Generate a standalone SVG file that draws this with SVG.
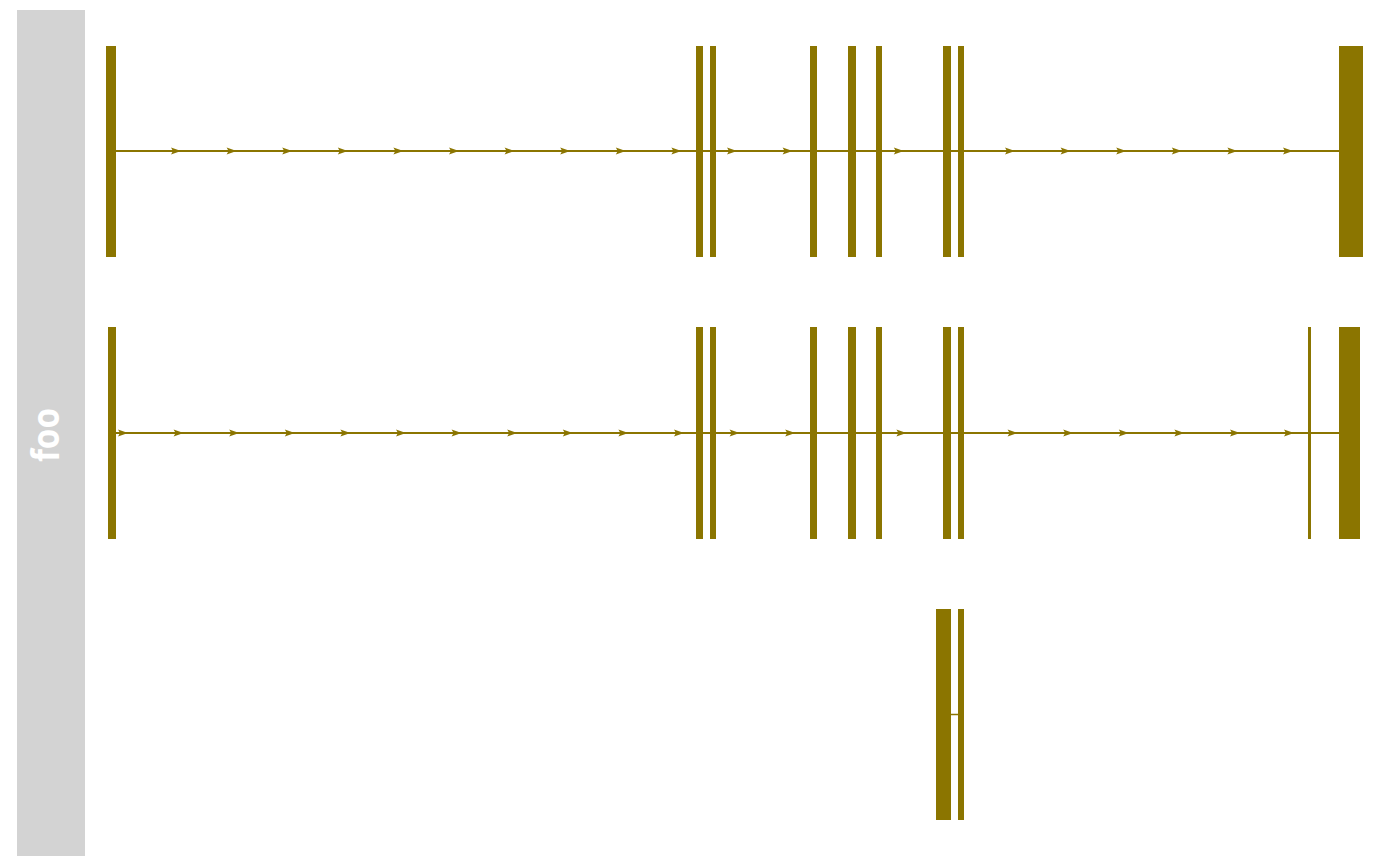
<svg xmlns="http://www.w3.org/2000/svg" xmlns:xlink="http://www.w3.org/1999/xlink" width="1400" height="866" viewBox="0 0 1400 866">
<style>
.bar{fill:#8B7500;}
.conn{stroke:#8B7500;stroke-width:2;fill:none;}
.thin{stroke:#8B7500;stroke-width:1.5;fill:none;}
.lbl{font-family:"Open Sans","Liberation Sans",sans-serif;font-weight:bold;font-size:37px;fill:#FFFFFF;}
</style>
<defs>
<path id="ah" d="M-10,-3.5 L0,0 L-10,3.5 L-8,0 Z" fill="#8B7500"/>
</defs>
<rect width="1400" height="866" fill="#FFFFFF"/>
<g id="lane">
<rect x="17" y="10" width="68" height="846" fill="#D3D3D3"/>
<text class="lbl" transform="translate(59,435) rotate(-90) scale(0.9,1)" text-anchor="middle">foo</text>
</g>
<g id="connectors">
<line class="conn" x1="116" y1="151" x2="1339" y2="151"/>
<use xlink:href="#ah" x="181" y="151"/><use xlink:href="#ah" x="236.6" y="151"/><use xlink:href="#ah" x="292.2" y="151"/><use xlink:href="#ah" x="347.8" y="151"/><use xlink:href="#ah" x="403.4" y="151"/><use xlink:href="#ah" x="459" y="151"/><use xlink:href="#ah" x="514.6" y="151"/><use xlink:href="#ah" x="570.2" y="151"/><use xlink:href="#ah" x="625.8" y="151"/><use xlink:href="#ah" x="681.4" y="151"/><use xlink:href="#ah" x="737" y="151"/><use xlink:href="#ah" x="792.6" y="151"/><use xlink:href="#ah" x="903.8" y="151"/><use xlink:href="#ah" x="1015" y="151"/><use xlink:href="#ah" x="1070.6" y="151"/><use xlink:href="#ah" x="1126.2" y="151"/><use xlink:href="#ah" x="1181.8" y="151"/><use xlink:href="#ah" x="1237.4" y="151"/><use xlink:href="#ah" x="1293" y="151"/>
<line class="conn" x1="116" y1="433" x2="1339" y2="433"/>
<use xlink:href="#ah" x="128" y="433"/><use xlink:href="#ah" x="183.6" y="433"/><use xlink:href="#ah" x="239.2" y="433"/><use xlink:href="#ah" x="294.8" y="433"/><use xlink:href="#ah" x="350.4" y="433"/><use xlink:href="#ah" x="406" y="433"/><use xlink:href="#ah" x="461.6" y="433"/><use xlink:href="#ah" x="517.2" y="433"/><use xlink:href="#ah" x="572.8" y="433"/><use xlink:href="#ah" x="628.4" y="433"/><use xlink:href="#ah" x="684" y="433"/><use xlink:href="#ah" x="739.6" y="433"/><use xlink:href="#ah" x="795.2" y="433"/><use xlink:href="#ah" x="906.4" y="433"/><use xlink:href="#ah" x="1017.6" y="433"/><use xlink:href="#ah" x="1073.2" y="433"/><use xlink:href="#ah" x="1128.8" y="433"/><use xlink:href="#ah" x="1184.4" y="433"/><use xlink:href="#ah" x="1240" y="433"/><use xlink:href="#ah" x="1294" y="433"/>
<line class="thin" x1="951" y1="714.5" x2="958" y2="714.5"/>
</g>
<g id="row1">
<rect id="r1n1" class="bar" x="106" y="46" width="10" height="211"/>
<rect id="r1n2" class="bar" x="696" y="46" width="7" height="211"/>
<rect id="r1n3" class="bar" x="710" y="46" width="6" height="211"/>
<rect id="r1n4" class="bar" x="810" y="46" width="7" height="211"/>
<rect id="r1n5" class="bar" x="848" y="46" width="8" height="211"/>
<rect id="r1n6" class="bar" x="876" y="46" width="6" height="211"/>
<rect id="r1n7" class="bar" x="943" y="46" width="8" height="211"/>
<rect id="r1n8" class="bar" x="958" y="46" width="6" height="211"/>
<rect id="r1n9" class="bar" x="1339" y="46" width="24" height="211"/>
</g>
<g id="row2">
<rect id="r2n1" class="bar" x="108" y="327" width="8" height="212"/>
<rect id="r2n2" class="bar" x="696" y="327" width="7" height="212"/>
<rect id="r2n3" class="bar" x="710" y="327" width="6" height="212"/>
<rect id="r2n4" class="bar" x="810" y="327" width="7" height="212"/>
<rect id="r2n5" class="bar" x="848" y="327" width="8" height="212"/>
<rect id="r2n6" class="bar" x="876" y="327" width="6" height="212"/>
<rect id="r2n7" class="bar" x="943" y="327" width="8" height="212"/>
<rect id="r2n8" class="bar" x="958" y="327" width="6" height="212"/>
<rect id="r2n9" class="bar" x="1308" y="327" width="3" height="212"/>
<rect id="r2n10" class="bar" x="1339" y="327" width="21" height="212"/>
</g>
<g id="row3">
<rect id="r3n1" class="bar" x="936" y="609" width="15" height="211"/>
<rect id="r3n2" class="bar" x="958" y="609" width="6" height="211"/>
</g>
</svg>
